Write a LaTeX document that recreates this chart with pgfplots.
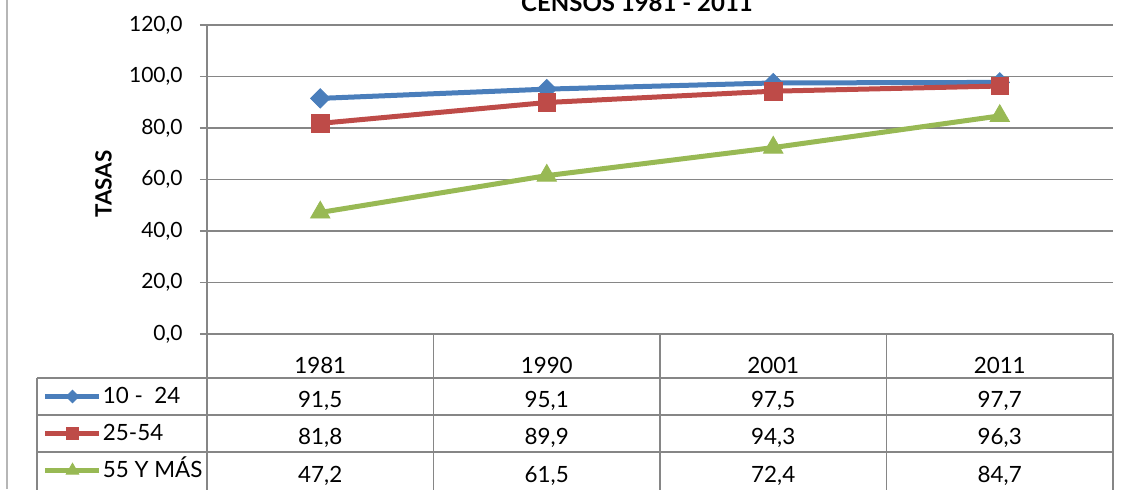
\documentclass[border=0pt]{standalone}
\usepackage{fontspec}
\setmainfont{Lato}
\usepackage{pgfplots}
\pgfplotsset{compat=1.18}
\usepackage{pgfplotstable}

\definecolor{sblue}{HTML}{4A7EBB}
\definecolor{sred}{HTML}{BE4B48}
\definecolor{sgreen}{HTML}{98B954}
\definecolor{gridgray}{HTML}{868686}

% tasas por grupo de edad, censos 1981-2011
\pgfplotstableread{
x a b c
0 91.5 81.8 47.2
1 95.1 89.9 61.5
2 97.5 94.3 72.4
3 97.7 96.3 84.7
}\tasas

\pgfkeys{/pgf/number format/.cd, use comma, fixed, fixed zerofill, precision=1, assume math mode=true}
\newcommand\txt{\fontsize{10.5}{12}\selectfont}
\newcommand\tab{\fontsize{11.2}{13}\selectfont}

\begin{document}
\begin{tikzpicture}
\useasboundingbox (0,0) rectangle (562pt,244.5pt);
\clip (0,0) rectangle (562pt,244.5pt);
\draw[gridgray!60, line width=0.7pt] (3.5pt,0) -- (3.5pt,244.5pt);
\begin{axis}[
    at={(103.5pt,77.5pt)}, anchor=south west,
    scale only axis, width=453pt, height=154.5pt,
    xmin=-0.5, xmax=3.5, ymin=0, ymax=120,
    clip=false,
    axis x line*=bottom, axis y line*=left,
    axis line style={gridgray, line width=0.75pt, -},
    xtick={0,1,2,3}, xticklabels={1981,1990,2001,2011},
    major x tick style={draw=none},
    xticklabel style={anchor=base, yshift=-16pt, inner sep=0pt, font=\tab},
    ytick={0,20,...,120},
    tick align=outside, major tick length=3.5pt,
    ytick style={gridgray, line width=0.75pt},
    yticklabel style={anchor=east, inner sep=0pt, xshift=-8.5pt, font=\txt},
    ymajorgrids, major grid style={gridgray, line width=0.75pt},
    ylabel={\textbf{TASAS}},
    ylabel style={at={(axis description cs:-0.1142,0.4854)}, anchor=center, rotate=0, font=\tab},
    legend style={at={(axis cs:-1.2241,-17.09)}, anchor=north west, draw=none, fill=none,
        inner sep=0pt, outer sep=0pt, row sep=0pt, cells={anchor=west},
        nodes={inner sep=0pt, inner xsep=0.5pt, text height=7pt, text depth=0pt,
               minimum height=18.5pt, font=\tab}},
    legend image code/.code={\draw[mark repeat=2, mark phase=2, #1,
        every mark/.append style={scale=0.65}]
        plot coordinates {(0pt,0pt) (13.5pt,0pt) (27pt,0pt)};},
    nodes near coords style={text=black, anchor=base, inner sep=0pt, font=\tab},
]
% tabla de datos
\draw[gridgray, line width=0.75pt] (axis cs:-1.2506,-17.09) -- (axis cs:3.5,-17.09);
\draw[gridgray, line width=0.75pt] (axis cs:-1.2506,-31.46) -- (axis cs:3.5,-31.46);
\draw[gridgray, line width=0.75pt] (axis cs:-1.2506,-45.83) -- (axis cs:3.5,-45.83);
\draw[gridgray, line width=0.75pt] (axis cs:-1.2506,-17.09) -- (axis cs:-1.2506,-62);
\draw[gridgray, line width=0.75pt] (axis cs:-0.5,0) -- (axis cs:-0.5,-62);
\draw[gridgray, line width=0.75pt] (axis cs:0.5,0) -- (axis cs:0.5,-62);
\draw[gridgray, line width=0.75pt] (axis cs:1.5,0) -- (axis cs:1.5,-62);
\draw[gridgray, line width=0.75pt] (axis cs:2.5,0) -- (axis cs:2.5,-62);
\draw[gridgray, line width=0.75pt] (axis cs:3.5,0) -- (axis cs:3.5,-62);

\addplot[sblue, line width=2.5pt, mark=square*, mark size=3.4pt,
    mark options={rotate=45, solid, line width=0.4pt, fill=sblue}]
    table[x=x, y=a] {\tasas};
\addlegendentry{10 -\ \ 24}
\addplot[sred, line width=2.5pt, mark=square*, mark size=4.4pt,
    mark options={solid, line width=0.4pt, fill=sred}]
    table[x=x, y=b] {\tasas};
\addlegendentry{25-54}
\addplot[sgreen, line width=2.5pt, mark=triangle*, mark size=5.6pt,
    mark options={solid, line width=0.4pt, fill=sgreen}]
    table[x=x, y=c] {\tasas};
\addlegendentry{55 Y MÁS}

\addplot[draw=none, mark=none, forget plot, nodes near coords, point meta=explicit]
    table[x=x, y expr=-28.35, meta=a] {\tasas};
\addplot[draw=none, mark=none, forget plot, nodes near coords, point meta=explicit]
    table[x=x, y expr=-43.1, meta=b] {\tasas};
\addplot[draw=none, mark=none, forget plot, nodes near coords, point meta=explicit]
    table[x=x, y expr=-57.5, meta=c] {\tasas};

\node[anchor=base, font=\fontsize{12}{14}\selectfont\bfseries]
    at (axis description cs:0.4746,1.0421) {CENSOS 1981 - 2011};
\end{axis}
\end{tikzpicture}
\end{document}
